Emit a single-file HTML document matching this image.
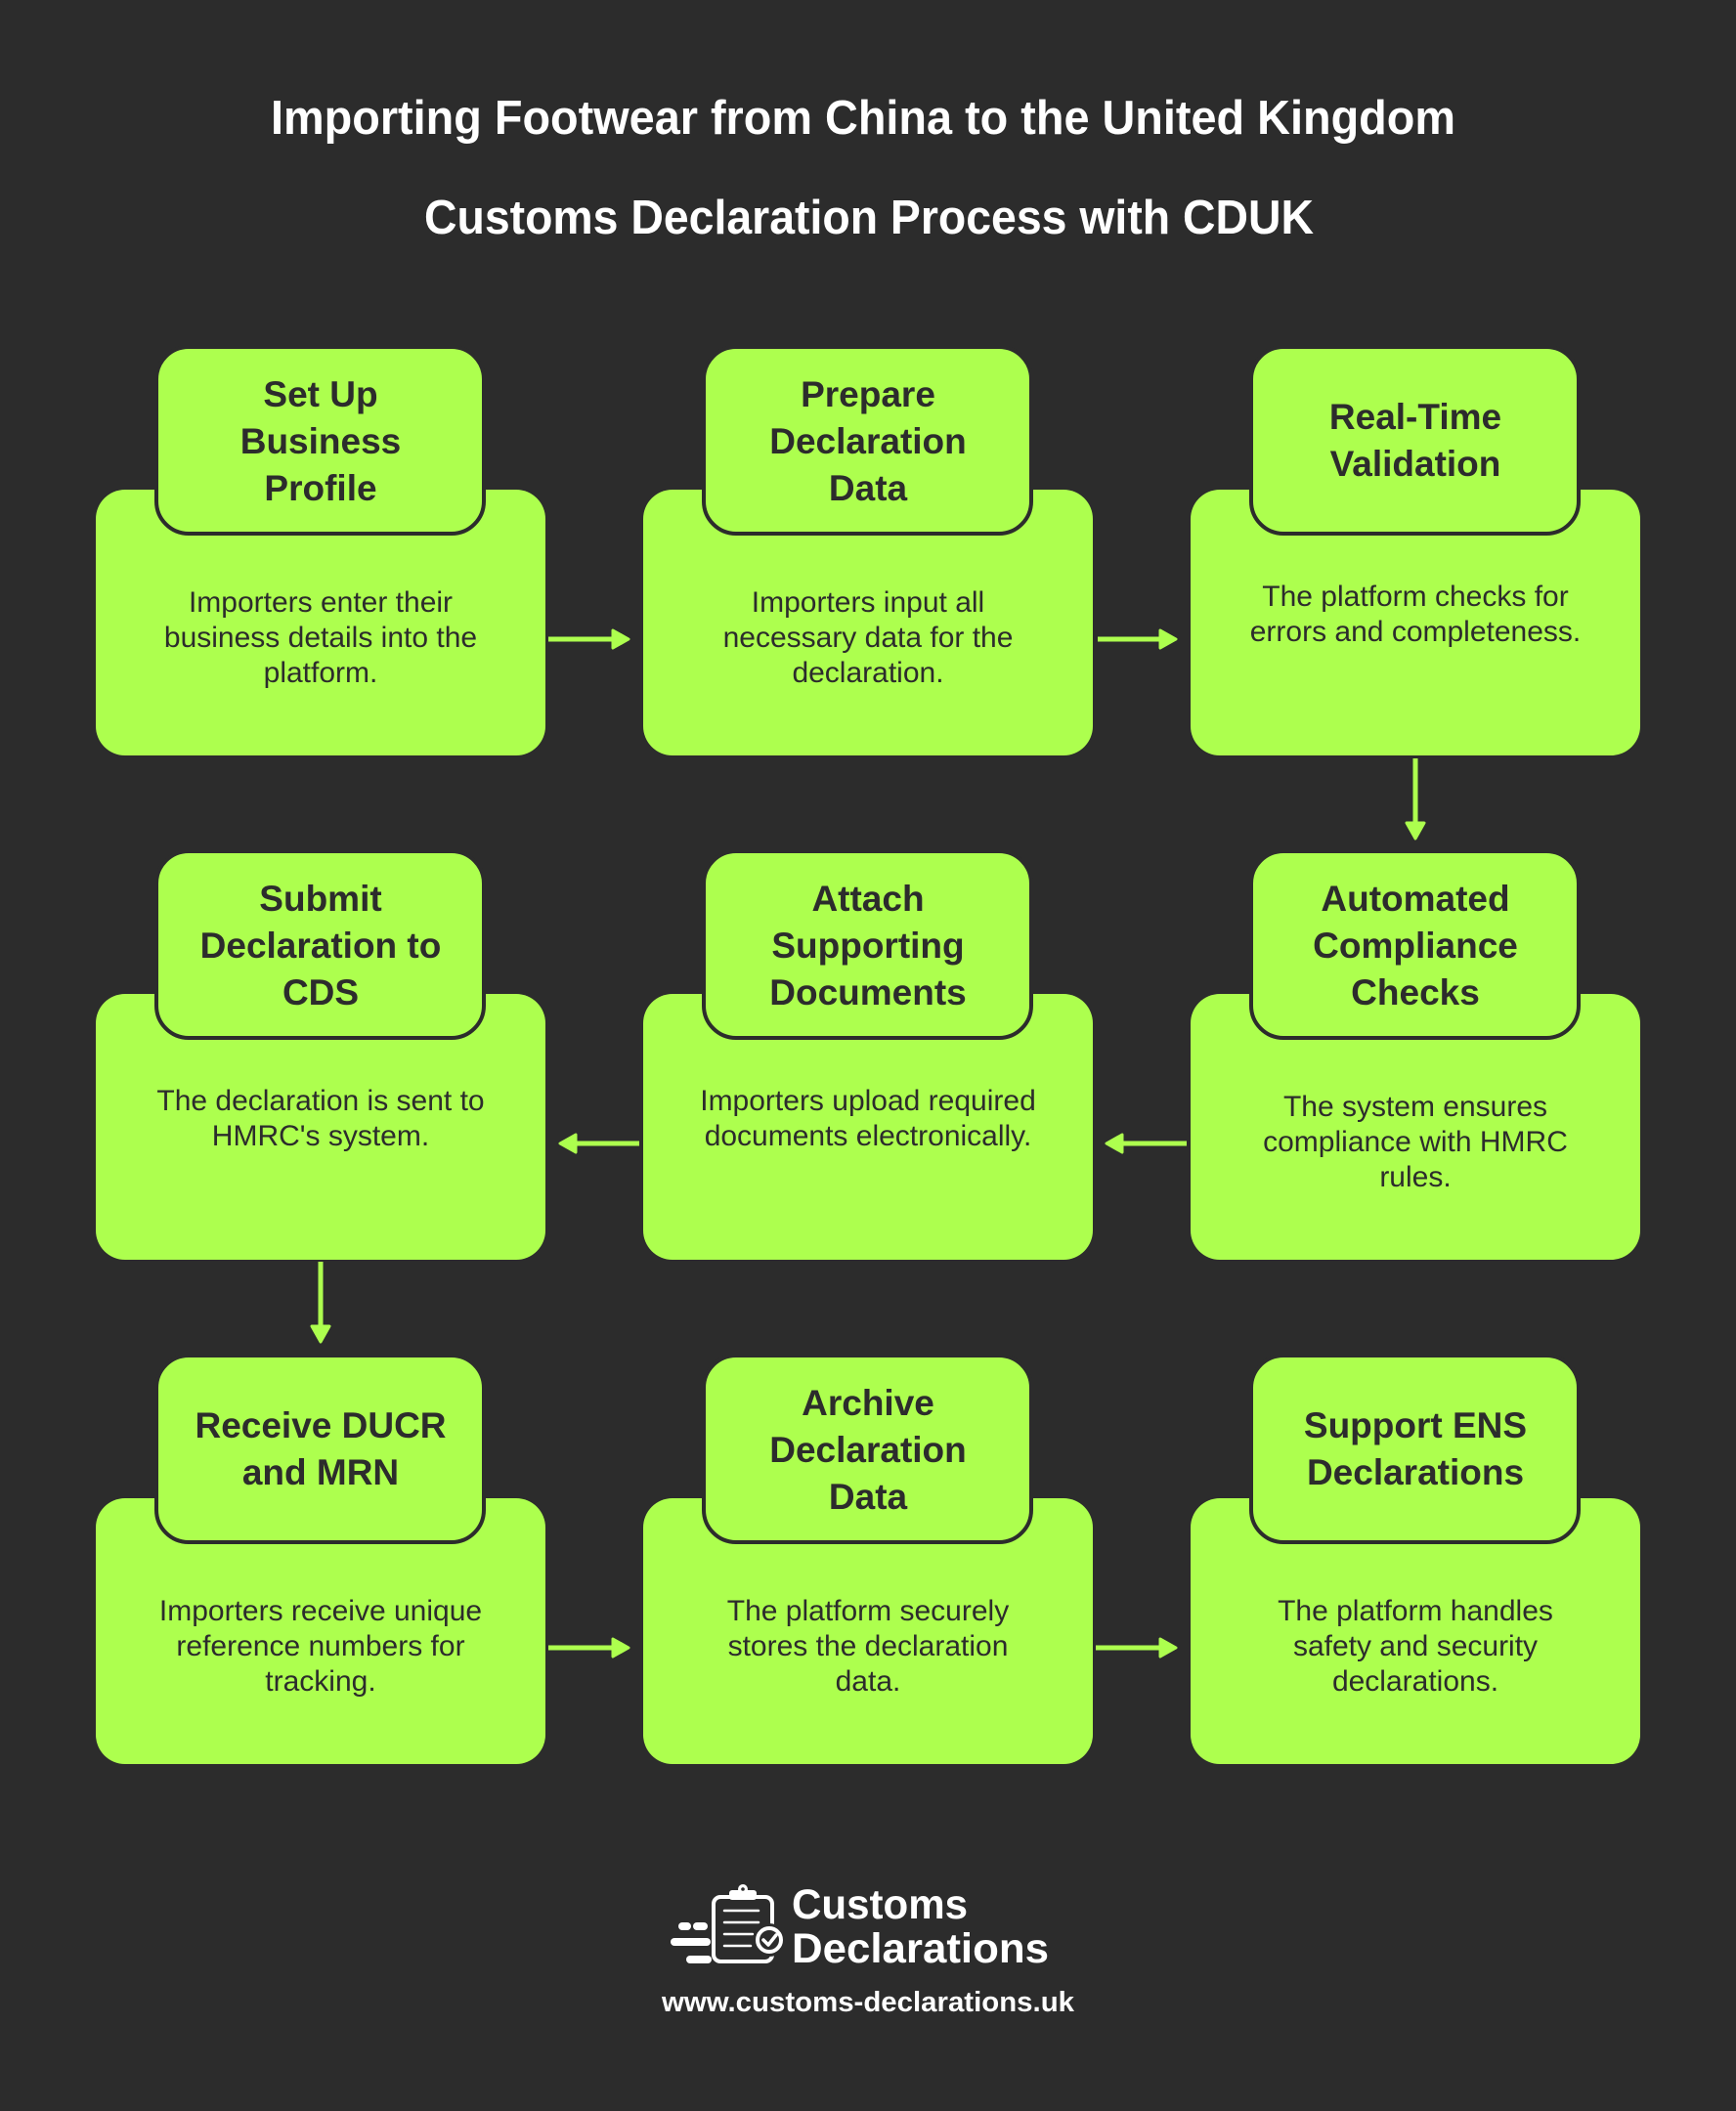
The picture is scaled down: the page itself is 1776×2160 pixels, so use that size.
<!DOCTYPE html>
<html>
<head>
<meta charset="utf-8">
<style>
  html,body{margin:0;padding:0;background:#2c2c2c;}
  body{width:1776px;height:2160px;overflow:hidden;}
  svg{display:block;}
  .t{font-family:"Liberation Sans",Arial,sans-serif;font-weight:bold;fill:#ffffff;}
  .h{font-family:"Liberation Sans",Arial,sans-serif;font-weight:bold;font-size:37px;fill:#2c2c2c;text-anchor:middle;}
  .b{font-family:"Liberation Sans",Arial,sans-serif;font-size:30px;fill:#2c2c2c;text-anchor:middle;}
  .big{fill:#adff4e;}
  .hdr{fill:#adff4e;stroke:#2c2c2c;stroke-width:4;}
  .ln{stroke:#adff4e;stroke-width:5;fill:none;}
  .hd{fill:#adff4e;stroke:#adff4e;stroke-width:3;stroke-linejoin:round;}
</style>
</head>
<body>
<svg width="1776" height="2160" viewBox="0 0 1776 2160" xmlns="http://www.w3.org/2000/svg">
  <rect x="0" y="0" width="1776" height="2160" fill="#2c2c2c"/>

  <!-- Titles -->
  <text class="t" x="883" y="137" font-size="49" text-anchor="middle" textLength="1212" lengthAdjust="spacingAndGlyphs">Importing Footwear from China to the United Kingdom</text>
  <text class="t" x="889" y="239" font-size="49" text-anchor="middle" textLength="910" lengthAdjust="spacingAndGlyphs">Customs Declaration Process with CDUK</text>

  <!-- ROW 1 -->
  <rect class="big" x="98" y="501" width="460" height="272" rx="30"/>
  <rect class="big" x="658" y="501" width="460" height="272" rx="30"/>
  <rect class="big" x="1218" y="501" width="460" height="272" rx="30"/>
  <rect class="hdr" x="160" y="355" width="335" height="191" rx="33"/>
  <rect class="hdr" x="720" y="355" width="335" height="191" rx="33"/>
  <rect class="hdr" x="1280" y="355" width="335" height="191" rx="33"/>

  <text class="h" x="328" y="416">Set Up</text>
  <text class="h" x="328" y="464">Business</text>
  <text class="h" x="328" y="512">Profile</text>
  <text class="b" x="328" y="626">Importers enter their</text>
  <text class="b" x="328" y="662">business details into the</text>
  <text class="b" x="328" y="698">platform.</text>

  <text class="h" x="888" y="416">Prepare</text>
  <text class="h" x="888" y="464">Declaration</text>
  <text class="h" x="888" y="512">Data</text>
  <text class="b" x="888" y="626">Importers input all</text>
  <text class="b" x="888" y="662">necessary data for the</text>
  <text class="b" x="888" y="698">declaration.</text>

  <text class="h" x="1448" y="439">Real-Time</text>
  <text class="h" x="1448" y="487">Validation</text>
  <text class="b" x="1448" y="620">The platform checks for</text>
  <text class="b" x="1448" y="656">errors and completeness.</text>

  <!-- ROW 2 -->
  <rect class="big" x="98" y="1017" width="460" height="272" rx="30"/>
  <rect class="big" x="658" y="1017" width="460" height="272" rx="30"/>
  <rect class="big" x="1218" y="1017" width="460" height="272" rx="30"/>
  <rect class="hdr" x="160" y="871" width="335" height="191" rx="33"/>
  <rect class="hdr" x="720" y="871" width="335" height="191" rx="33"/>
  <rect class="hdr" x="1280" y="871" width="335" height="191" rx="33"/>

  <text class="h" x="328" y="932">Submit</text>
  <text class="h" x="328" y="980">Declaration to</text>
  <text class="h" x="328" y="1028">CDS</text>
  <text class="b" x="328" y="1136">The declaration is sent to</text>
  <text class="b" x="328" y="1172">HMRC's system.</text>

  <text class="h" x="888" y="932">Attach</text>
  <text class="h" x="888" y="980">Supporting</text>
  <text class="h" x="888" y="1028">Documents</text>
  <text class="b" x="888" y="1136">Importers upload required</text>
  <text class="b" x="888" y="1172">documents electronically.</text>

  <text class="h" x="1448" y="932">Automated</text>
  <text class="h" x="1448" y="980">Compliance</text>
  <text class="h" x="1448" y="1028">Checks</text>
  <text class="b" x="1448" y="1142">The system ensures</text>
  <text class="b" x="1448" y="1178">compliance with HMRC</text>
  <text class="b" x="1448" y="1214">rules.</text>

  <!-- ROW 3 -->
  <rect class="big" x="98" y="1533" width="460" height="272" rx="30"/>
  <rect class="big" x="658" y="1533" width="460" height="272" rx="30"/>
  <rect class="big" x="1218" y="1533" width="460" height="272" rx="30"/>
  <rect class="hdr" x="160" y="1387" width="335" height="191" rx="33"/>
  <rect class="hdr" x="720" y="1387" width="335" height="191" rx="33"/>
  <rect class="hdr" x="1280" y="1387" width="335" height="191" rx="33"/>

  <text class="h" x="328" y="1471">Receive DUCR</text>
  <text class="h" x="328" y="1519">and MRN</text>
  <text class="b" x="328" y="1658">Importers receive unique</text>
  <text class="b" x="328" y="1694">reference numbers for</text>
  <text class="b" x="328" y="1730">tracking.</text>

  <text class="h" x="888" y="1448">Archive</text>
  <text class="h" x="888" y="1496">Declaration</text>
  <text class="h" x="888" y="1544">Data</text>
  <text class="b" x="888" y="1658">The platform securely</text>
  <text class="b" x="888" y="1694">stores the declaration</text>
  <text class="b" x="888" y="1730">data.</text>

  <text class="h" x="1448" y="1471">Support ENS</text>
  <text class="h" x="1448" y="1519">Declarations</text>
  <text class="b" x="1448" y="1658">The platform handles</text>
  <text class="b" x="1448" y="1694">safety and security</text>
  <text class="b" x="1448" y="1730">declarations.</text>

  <!-- ARROWS -->
  <line class="ln" x1="561" y1="654" x2="630" y2="654"/>
  <polygon class="hd" points="627,645 643,654 627,663"/>
  <line class="ln" x1="1123" y1="654" x2="1190" y2="654"/>
  <polygon class="hd" points="1187,645 1203,654 1187,663"/>
  <line class="ln" x1="1448" y1="776" x2="1448" y2="845"/>
  <polygon class="hd" points="1439,842 1448,858 1457,842"/>
  <line class="ln" x1="1214" y1="1170" x2="1145" y2="1170"/>
  <polygon class="hd" points="1148,1161 1132,1170 1148,1179"/>
  <line class="ln" x1="654" y1="1170" x2="586" y2="1170"/>
  <polygon class="hd" points="589,1161 573,1170 589,1179"/>
  <line class="ln" x1="328" y1="1291" x2="328" y2="1360"/>
  <polygon class="hd" points="319,1357 328,1373 337,1357"/>
  <line class="ln" x1="561" y1="1686" x2="630" y2="1686"/>
  <polygon class="hd" points="627,1677 643,1686 627,1695"/>
  <line class="ln" x1="1121" y1="1686" x2="1190" y2="1686"/>
  <polygon class="hd" points="1187,1677 1203,1686 1187,1695"/>

  <!-- FOOTER LOGO -->
  <g stroke="#ffffff" fill="none" stroke-linecap="round">
    <line x1="698" y1="1971" x2="703" y2="1971" stroke-width="8"/>
    <line x1="713" y1="1971" x2="720" y2="1971" stroke-width="8"/>
    <line x1="690" y1="1987" x2="723" y2="1987" stroke-width="8"/>
    <line x1="706" y1="2005" x2="724" y2="2005" stroke-width="8"/>
    <rect x="730" y="1941" width="60" height="66" rx="7" stroke-width="4"/>
    <line x1="741" y1="1955" x2="776" y2="1955" stroke-width="2.5"/>
    <line x1="741" y1="1967" x2="776" y2="1967" stroke-width="2.5"/>
    <line x1="741" y1="1979" x2="770" y2="1979" stroke-width="2.5"/>
    <line x1="741" y1="1991" x2="768" y2="1991" stroke-width="2.5"/>
  </g>
  <rect x="746" y="1934" width="28" height="10" rx="3" fill="#ffffff"/>
  <circle cx="760" cy="1933" r="5" fill="#ffffff"/>
  <circle cx="760" cy="1933" r="1.8" fill="#2c2c2c"/>
  <circle cx="787" cy="1985" r="17" fill="#2c2c2c"/>
  <circle cx="787" cy="1985" r="12" fill="#2c2c2c" stroke="#ffffff" stroke-width="4"/>
  <polyline points="781,1985 786,1990 794,1980" fill="none" stroke="#ffffff" stroke-width="3.5" stroke-linecap="round" stroke-linejoin="round"/>

  <text class="t" x="810" y="1963" font-size="43" textLength="180" lengthAdjust="spacingAndGlyphs">Customs</text>
  <text class="t" x="810" y="2008" font-size="43" textLength="263" lengthAdjust="spacingAndGlyphs">Declarations</text>
  <text class="t" x="888" y="2058" font-size="29" text-anchor="middle" textLength="422" lengthAdjust="spacingAndGlyphs">www.customs-declarations.uk</text>
</svg>
</body>
</html>
